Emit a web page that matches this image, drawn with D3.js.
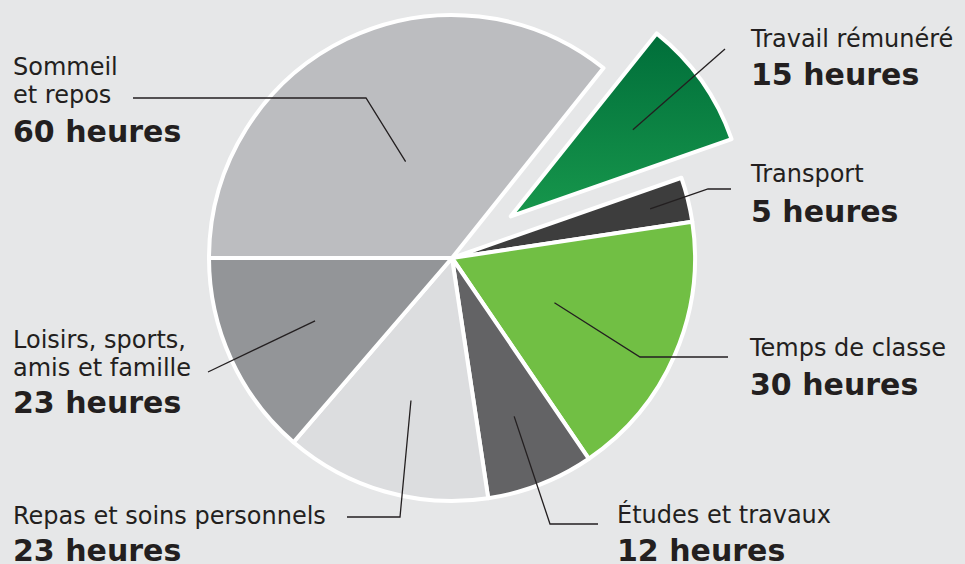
<!DOCTYPE html>
<html>
<head>
<meta charset="utf-8">
<script src="https://cdn.jsdelivr.net/npm/d3@7"></script>
<style>
  html, body { margin: 0; padding: 0; background: #e6e7e8; }
  svg { display: block; }
  text { font-family: "DejaVu Sans", sans-serif; fill: #231f20; }
</style>
</head>
<body>
<svg id="chart" width="965" height="564"></svg>
<script>
// ---- Data ----
const categories = ["Sommeil et repos", "Travail rémunéré", "Transport", "Temps de classe", "Études et travaux", "Repas et soins personnels", "Loisirs, sports, amis et famille"];
const labelLines = [["Sommeil", "et repos"], ["Travail rémunéré"], ["Transport"], ["Temps de classe"], ["Études et travaux"], ["Repas et soins personnels"], ["Loisirs, sports,", "amis et famille"]];
const hours = [60, 15, 5, 30, 12, 23, 23];
const unit = "heures";

// ---- Styling / layout ----
const colors = ["#bcbdc0", "url(#greenGrad)", "#3d3d3d", "#71bf44", "#636365", "#dcdddf", "#939598"];
const W = 965, H = 564;
const cx = 452, cy = 258, R = 243;
const explodedIndex = 1, explodeDist = 72, explodedR = 234;
const leaderFrac = [0.44, 0.64, 0.84, 0.46, 0.70, 0.61, 0.62];
const leaderPath = [
  [[366, 98], [133, 98]],
  [[725, 49]],
  [[708, 189], [731, 189]],
  [[640, 357], [728, 357]],
  [[550, 524], [598, 524]],
  [[400, 517], [347, 517]],
  [[208, 372]]
];
const labelPos = [
  {x: 13, y: 75, boldY: 142},
  {x: 751, y: 47, boldY: 85},
  {x: 751, y: 182, boldY: 222},
  {x: 750, y: 356, boldY: 395},
  {x: 617, y: 523, boldY: 561},
  {x: 13, y: 524, boldY: 561},
  {x: 13, y: 348, boldY: 413}
];

const svg = d3.select("#chart");
svg.append("rect").attr("width", W).attr("height", H).attr("fill", "#e6e7e8");

const defs = svg.append("defs");
const grad = defs.append("linearGradient").attr("id", "greenGrad")
  .attr("x1", 0).attr("y1", 0).attr("x2", 0).attr("y2", 1);
grad.append("stop").attr("offset", "0%").attr("stop-color", "#006e3a");
grad.append("stop").attr("offset", "100%").attr("stop-color", "#17974c");

const pie = d3.pie().sort(null).startAngle(-Math.PI / 2).endAngle(3 * Math.PI / 2);
const arcs = pie(hours);

const g = svg.append("g").attr("transform", `translate(${cx},${cy})`);

function offsetOf(i) {
  if (i !== explodedIndex) return [0, 0];
  const a = (arcs[i].startAngle + arcs[i].endAngle) / 2;
  return [Math.sin(a) * explodeDist, -Math.cos(a) * explodeDist];
}

g.selectAll("path.slice").data(arcs).join("path")
  .attr("class", "slice")
  .attr("d", (d, i) => d3.arc().innerRadius(0).outerRadius(i === explodedIndex ? explodedR : R)(d))
  .attr("transform", (d, i) => `translate(${offsetOf(i)[0]},${offsetOf(i)[1]})`)
  .attr("fill", (d, i) => colors[i])
  .attr("stroke", "#ffffff")
  .attr("stroke-width", 4)
  .attr("stroke-linejoin", "round");

// leader lines
const lineGen = d3.line();
arcs.forEach((d, i) => {
  const r = (i === explodedIndex ? explodedR : R) * leaderFrac[i];
  const c = d3.arc().innerRadius(r).outerRadius(r).centroid(d);
  const off = offsetOf(i);
  const start = [cx + c[0] + off[0], cy + c[1] + off[1]];
  const pts = [start].concat(leaderPath[i]);
  svg.append("path")
    .attr("d", lineGen(pts))
    .attr("fill", "none")
    .attr("stroke", "#231f20")
    .attr("stroke-width", 1.3);
});

// labels
categories.forEach((c, i) => {
  const p = labelPos[i];
  labelLines[i].forEach((ln, k) => {
    svg.append("text")
      .attr("x", p.x).attr("y", p.y + k * 28)
      .attr("font-size", 24)
      .text(ln);
  });
  svg.append("text")
    .attr("x", p.x).attr("y", p.boldY)
    .attr("font-size", 30)
    .attr("font-weight", "bold")
    .text(hours[i] + " " + unit);
});
</script>
</body>
</html>
